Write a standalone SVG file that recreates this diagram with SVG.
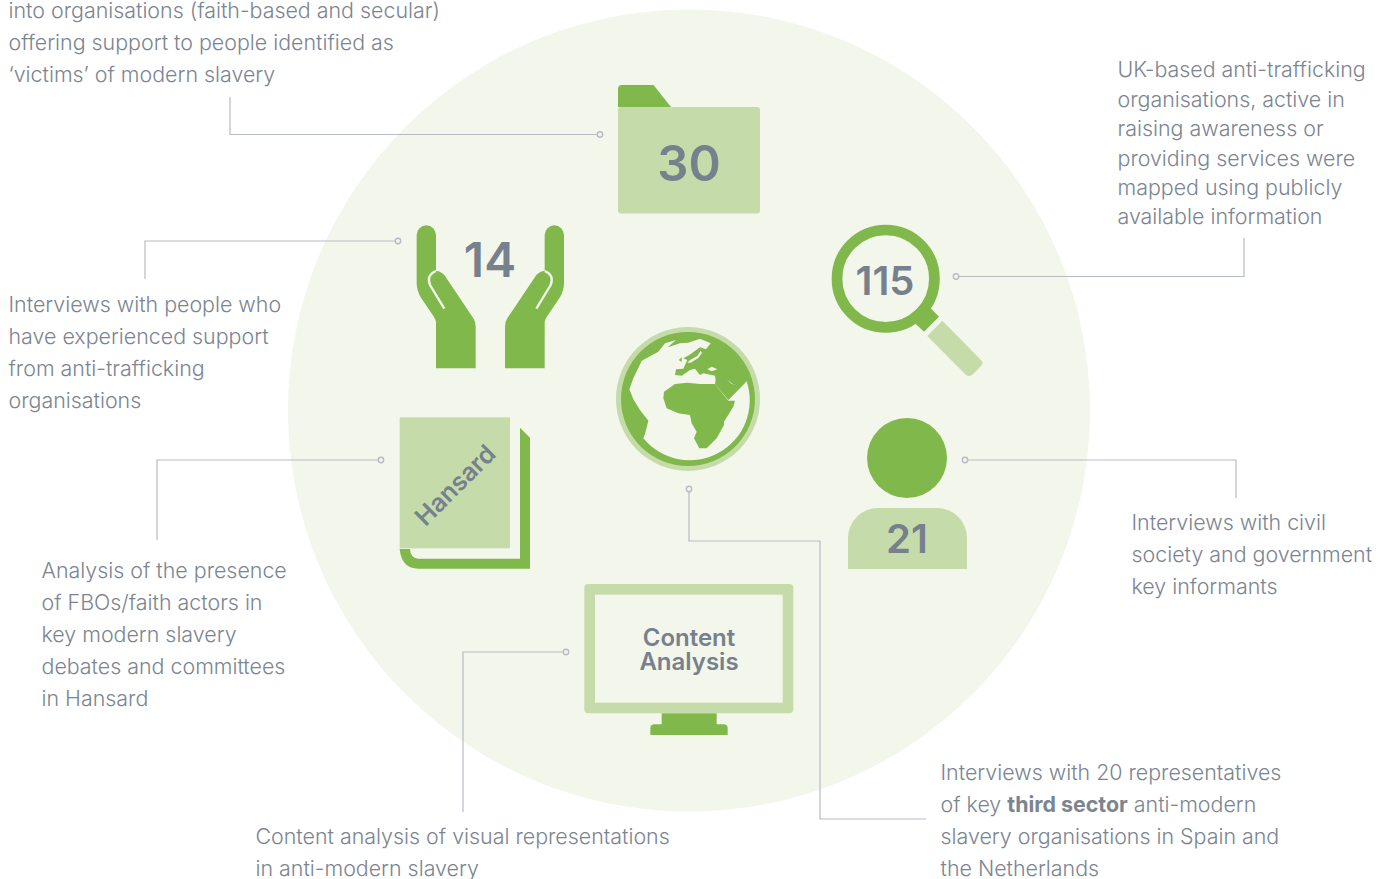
<svg xmlns="http://www.w3.org/2000/svg" width="1386" height="879" viewBox="0 0 1386 879">
<style>
.t{font-family:"Inter","Liberation Sans",sans-serif;font-weight:300;font-size:21.4px;fill:#7b8591}
.n{font-family:"Inter","Liberation Sans",Arial,sans-serif;font-weight:600;fill:#77808d;text-anchor:middle}
.g{fill:#80b84c}.l{fill:#c6dbaa}.p{fill:#f3f6ea}
.c{fill:none;stroke:#b7bbc6;stroke-width:1.2}
.d{fill:#f3f6ea;stroke:#b7bbc6;stroke-width:1.4}
</style>
<rect width="1386" height="879" fill="#fff"/>
<circle cx="689" cy="410.500" r="401" class="p"/>
<g id="connectors">
<path class="c" d="M230 97V134.500H597"/><circle class="d" cx="600" cy="134.500" r="2.700"/>
<path class="c" d="M145 279V241H395"/><circle class="d" cx="398" cy="241" r="2.700"/>
<path class="c" d="M157 540V460H378"/><circle class="d" cx="381" cy="460" r="2.700"/>
<path class="c" d="M463 812V652H563"/><circle class="d" cx="566" cy="652" r="2.700"/>
<path class="c" d="M689 492V541H820V819H926"/><circle class="d" cx="689" cy="489" r="2.700"/>
<path class="c" d="M959 276.500H1244V238"/><circle class="d" cx="956" cy="276.500" r="2.700"/>
<path class="c" d="M968 460H1236V498"/><circle class="d" cx="965" cy="460" r="2.700"/>
</g>
<g id="node-folder">
<path class="g" d="M618 107V89q0-4 4-4H653.500L671 107Z"/>
<rect class="l" x="618" y="107" width="142" height="106.500" rx="3"/>
<text class="n" x="689" y="181" font-size="49">30</text>
<text class="t" x="8.500" y="18">into organisations (faith-based and secular)</text>
<text class="t" x="8.500" y="50">offering support to people identified as</text>
<text class="t" x="8.500" y="82">‘victims’ of modern slavery</text>
</g>
<g id="node-hands">
<g transform="translate(390 210) scale(.33333)">
<g id="hand"><path class="g" d="M80 75a29 29 0 0 1 58 0V183H140Q150 183 163 195L250 325Q257 335 257 350V475H138V335Q135 325 130 318L92 262Q80 240 80 220Z"/>
<path fill="none" stroke="#f3f6ea" stroke-width="7" d="M138 183Q108 195 120 225L163 296"/></g>
<use href="#hand" transform="translate(602 0) scale(-1 1)"/>
</g>
<text class="n" x="490" y="277" font-size="48">14</text>
<text class="t" x="8.500" y="312">Interviews with people who</text>
<text class="t" x="8.500" y="344">have experienced support</text>
<text class="t" x="8.500" y="376">from anti-trafficking</text>
<text class="t" x="8.500" y="408">organisations</text>
</g>
<g id="node-hansard">
<g transform="translate(380 400) scale(.33333)">
<path class="g" d="M420 83L450 113V506H115Q65 506 59 447H90Q92 476 115 476H420Z"/>
<rect class="l" x="59" y="52" width="331" height="393"/>
</g>
<text class="n" x="455" y="494" font-size="25" transform="rotate(-45 455 485)">Hansard</text>
<text class="t" x="41.500" y="578">Analysis of the presence</text>
<text class="t" x="41.500" y="610">of FBOs/faith actors in</text>
<text class="t" x="41.500" y="642">key modern slavery</text>
<text class="t" x="41.500" y="674">debates and committees</text>
<text class="t" x="41.500" y="706">in Hansard</text>
</g>
<g id="node-monitor">
<g transform="translate(570 575) scale(.33333)">
<rect class="l" x="43" y="27" width="627" height="388" rx="12"/>
<rect class="p" x="75" y="59" width="563" height="324"/>
<rect class="g" x="275" y="415" width="165" height="36"/>
<path class="g" d="M241 480V460q0-12 12-12H461q12 0 12 12V480Z"/>
</g>
<text class="n" x="689" y="646" font-size="24">Content</text>
<text class="n" x="689" y="670" font-size="24">Analysis</text>
<text class="t" x="255.500" y="844">Content analysis of visual representations</text>
<text class="t" x="255.500" y="876">in anti-modern slavery</text>
</g>
<g id="node-globe">
<circle class="l" cx="688" cy="399" r="72"/>
<circle class="g" cx="688" cy="399" r="67"/>
<g transform="translate(600 310) scale(.33333)">
<path class="p" d="M88 238L100 205L125 152L175 125L195 100L228 90L203 112L240 100L265 98L300 86L332 100L318 118L300 112L268 135L250 145L262 150L255 165L250 176L228 178L225 195L245 197L270 180L285 176L300 195L310 190L345 197L347 210L345 222L362 242L385 270L420 235L440 214A180 180 0 0 1 130 385L135 372L145 332L120 300L100 268Z"/>
<path class="g" d="M192 245L225 222L262 218L300 222L345 222L385 272L405 272L400 290L372 335L372 345L350 385L320 415L298 415L282 385L290 365L275 340L270 315L235 310L200 295L190 265Z"/>
<path class="p" d="M322 178L335 170L352 178L335 184Z"/>
<path class="p" d="M380 208L395 222L412 226L398 222Z"/>
<path class="p" d="M302 122L292 138L270 150L262 158L272 158L295 144L306 128Z"/>
<path class="g" d="M236 150L245 142L245 156Z"/>
</g>
</g>
<g id="node-magnifier">
<circle cx="885.700" cy="278.700" r="48.700" fill="none" stroke="#80b84c" stroke-width="10.700"/>
<path class="g" d="M930.700 308.300L939 316.700L924 331.700L915.700 324Z"/>
<path class="l" d="M942.300 320.700L981 360Q984 363 981 366L972 375Q969 377 966 375L927.300 336Z"/>
<text class="n" x="885" y="295" font-size="40">115</text>
<text class="t" x="1117.500" y="77">UK-based anti-trafficking</text>
<text class="t" x="1117.500" y="107">organisations, active in</text>
<text class="t" x="1117.500" y="136">raising awareness or</text>
<text class="t" x="1117.500" y="165.500">providing services were</text>
<text class="t" x="1117.500" y="195">mapped using publicly</text>
<text class="t" x="1117.500" y="224">available information</text>
</g>
<g id="node-person">
<circle class="g" cx="907" cy="458" r="40"/>
<path class="l" d="M848 569V538a30 30 0 0 1 30-30H937a30 30 0 0 1 30 30V569Z"/>
<text class="n" x="907" y="553" font-size="40">21</text>
<text class="t" x="1131.500" y="530">Interviews with civil</text>
<text class="t" x="1131.500" y="562">society and government</text>
<text class="t" x="1131.500" y="594">key informants</text>
</g>
<g id="node-third-sector">
<text class="t" x="940.500" y="780">Interviews with 20 representatives</text>
<text class="t" x="940.500" y="812">of key <tspan font-weight="700">third sector</tspan> anti-modern</text>
<text class="t" x="940.500" y="844">slavery organisations in Spain and</text>
<text class="t" x="940.500" y="876">the Netherlands</text>
</g>
</svg>
